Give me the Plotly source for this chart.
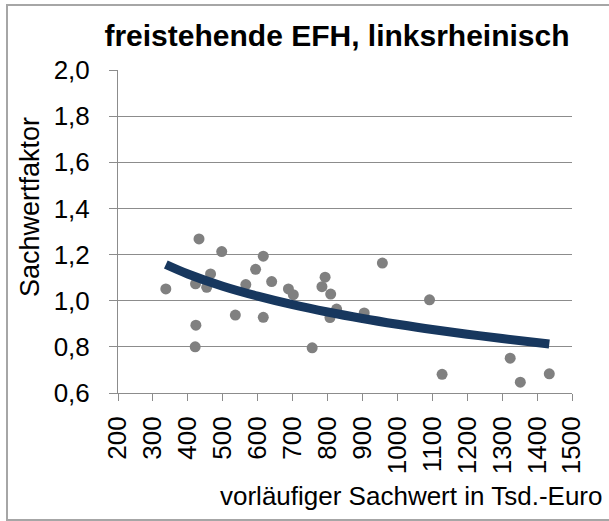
import plotly.graph_objects as go

# scatter data (vorläufiger Sachwert in Tsd.-Euro, Sachwertfaktor)
sachwert = [337, 432, 497, 616, 594, 465, 422, 454, 566, 640, 688, 702, 536, 616,
            423, 421, 756, 793, 784, 809, 826, 807, 905, 957, 1092, 1128, 1323, 1352, 1435]
faktor = [1.051, 1.268, 1.213, 1.193, 1.136, 1.116, 1.073, 1.058, 1.070, 1.083, 1.051, 1.026,
          0.938, 0.928, 0.894, 0.800, 0.796, 1.102, 1.061, 1.029, 0.964, 0.927, 0.947, 1.163,
          1.004, 0.681, 0.751, 0.647, 0.683]

# trend line
trend_x = [337, 400, 500, 600, 700, 800, 900, 1000, 1100, 1200, 1300, 1435]
trend_y = [1.157, 1.116, 1.063, 1.020, 0.983, 0.951, 0.923, 0.898, 0.875, 0.855, 0.836, 0.812]

x_ticks = list(range(200, 1501, 100))
y_ticks = [0.6, 0.8, 1.0, 1.2, 1.4, 1.6, 1.8, 2.0]

FONT = "Liberation Sans, Arial, sans-serif"
GRID = "#8c8c8c"

fig = go.Figure()
fig.add_trace(go.Scatter(x=sachwert, y=faktor, mode="markers",
                         marker=dict(size=11, color="#808080"),
                         showlegend=False, hoverinfo="skip"))
fig.add_trace(go.Scatter(x=trend_x, y=trend_y, mode="lines",
                         line=dict(color="#17375e", width=9, shape="spline"),
                         showlegend=False, hoverinfo="skip"))

fig.update_layout(
    width=609, height=521,
    margin=dict(l=118, r=37, t=70, b=128),
    paper_bgcolor="white", plot_bgcolor="white",
    separators=", ",
    font=dict(family=FONT, color="black", size=24),
    title=dict(text="<b>freistehende EFH, linksrheinisch</b>", x=337/609, xanchor="center",
               y=1 - 35/521, yanchor="middle", font=dict(size=30, family=FONT)),
    xaxis=dict(range=[200, 1500], tickvals=x_ticks, ticktext=[str(v) for v in x_ticks],
               tickangle=-90, ticks="outside", ticklen=7, tickcolor=GRID, tickwidth=1,
               showline=True, linecolor=GRID, linewidth=1, showgrid=False, zeroline=False,
               ticklabelstandoff=5, tickfont=dict(size=26, family=FONT)),
    yaxis=dict(range=[0.6, 2.0], tickvals=y_ticks, tickformat=".1f",
               ticks="outside", ticklen=8, tickcolor=GRID, tickwidth=1,
               showline=True, linecolor=GRID, linewidth=1,
               showgrid=True, gridcolor=GRID, gridwidth=1, zeroline=False,
               ticklabelstandoff=14, tickfont=dict(size=26, family=FONT)),
    shapes=[dict(type="rect", xref="paper", yref="paper",
                 x0=(7 - 118) / 454, x1=(612 - 118) / 454,
                 y0=-(520 - 393) / 323, y1=1 + (70 - 5) / 323,
                 line=dict(color="#a6a6a6", width=2), fillcolor="rgba(0,0,0,0)", layer="below")],
    annotations=[
        dict(text="Sachwertfaktor", xref="paper", yref="paper",
             x=(30 - 118) / 454, y=1 - (207 - 70) / 323, xanchor="center", yanchor="middle",
             textangle=-90, showarrow=False, font=dict(size=27, family=FONT)),
        dict(text="vorläufiger Sachwert in Tsd.-Euro", xref="paper", yref="paper",
             x=(604 - 118) / 454, y=-(496 - 393) / 323, xanchor="right", yanchor="middle",
             showarrow=False, font=dict(size=26, family=FONT)),
    ],
)

fig.write_html("out.html", config={"displayModeBar": False},
               post_script="document.body.style.margin='0';document.body.style.padding='0';")
